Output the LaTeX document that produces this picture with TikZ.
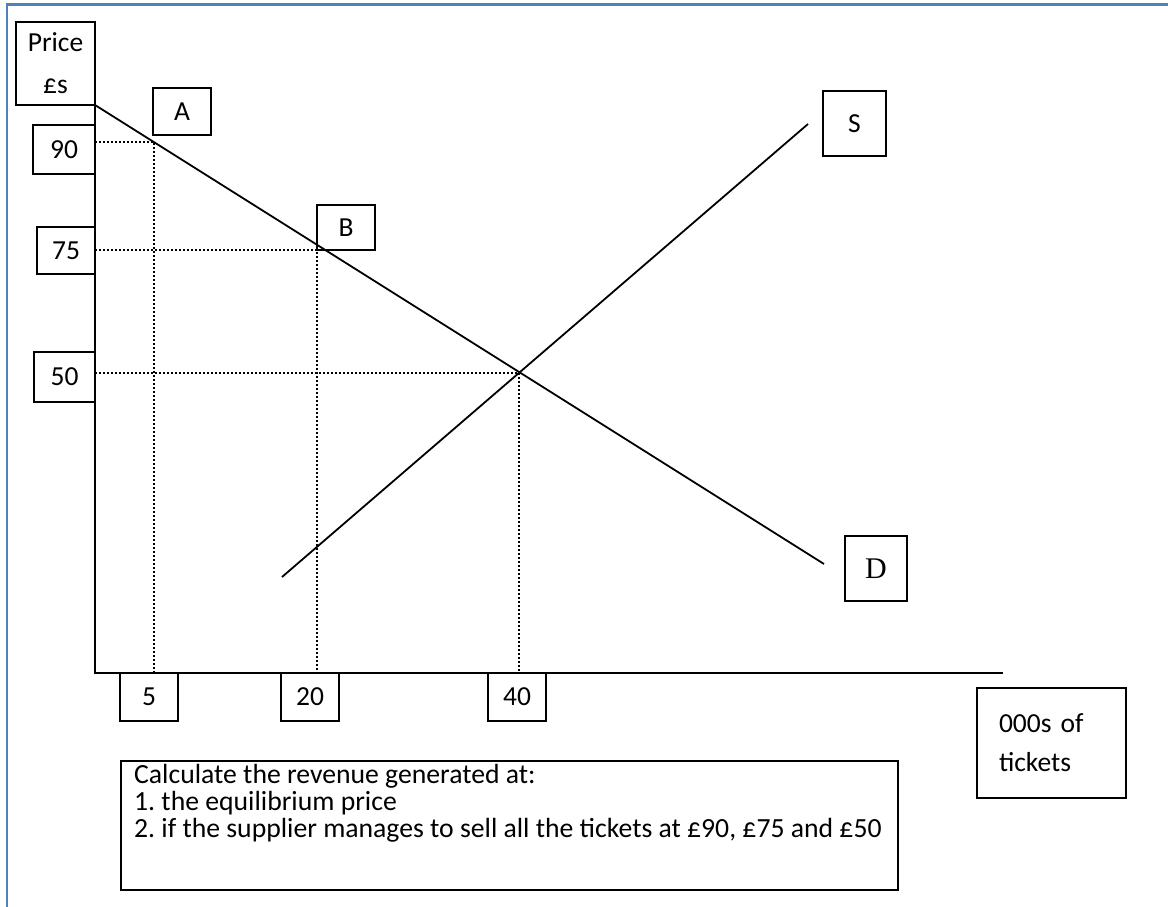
\documentclass[tikz,border=0pt]{standalone}
\usepackage{fontspec}
\setmainfont{Carlito}
\newfontfamily\timesfont{Liberation Serif}
\usetikzlibrary{positioning}
\definecolor{frameblue}{RGB}{79,129,189}
\frenchspacing

\begin{document}
\begin{tikzpicture}[x=1pt,y=-1pt]
\tikzstyle{lbl} = [draw,line width=1.6pt,inner sep=0pt,outer sep=0pt,font=\fontsize{27.5}{34}\selectfont]
\tikzstyle{curve} = [line width=1.8pt]
\tikzstyle{axis} = [line width=2pt]
\tikzstyle{guide} = [line width=1.8pt,dash pattern=on 2pt off 2pt]

\useasboundingbox (0,0) rectangle (1168,907);
\draw[line width=2.5pt,color=frameblue] (7,907) -- (7,4.5) -- (1168,4.5);

% axis labels
\node[lbl,minimum width=79pt,minimum height=83pt,align=center] (price) at (55.5,63.5) {Price\\[8pt]£s};
\node[lbl,minimum width=149pt,minimum height=110pt,text width=105pt,align=left] (qty) at (1051.5,743) {000s of\\[5pt]tickets\\[2pt]};

% price values
\node[lbl,minimum width=62pt,minimum height=49pt] (y90) at (64,149.5) {90};
\node[lbl,minimum width=58pt,minimum height=47pt] (y75) at (66,250.5) {75};
\node[lbl,minimum width=61pt,minimum height=50pt] (y50) at (64.5,377) {50};

% quantity values
\node[lbl,minimum width=58pt,minimum height=48pt] (x5) at (149,697) {5};
\node[lbl,minimum width=58pt,minimum height=48pt] (x20) at (310,697) {20};
\node[lbl,minimum width=58pt,minimum height=48pt] (x40) at (517,697) {40};

% points and curves
\node[lbl,minimum width=58pt,minimum height=47pt] (A) at (182,111.5) {A};
\node[lbl,minimum width=58pt,minimum height=45pt] (B) at (346,227.5) {B};
\node[lbl,minimum width=63pt,minimum height=65pt] (S) at (854.5,123.5) {S};
\node[lbl,minimum width=62pt,minimum height=65pt,font=\timesfont\fontsize{30}{34}\selectfont] (D) at (876,568.5) {D};

\coordinate (O) at (95,673);
\coordinate (xEnd) at (1003,673);
\coordinate (dEnd) at (824,564);
\coordinate (sStart) at (282,577);
\coordinate (sEnd) at (808,124);
\coordinate (pA) at (154,142);
\coordinate (pB) at (317,250);
\coordinate (pE) at (519,373);

\draw[axis] (price.south east) -- (O) -- (xEnd);
\draw[curve] (price.south east) -- (dEnd);
\draw[curve] (sStart) -- (sEnd);

\draw[guide] (O |- pA) -- (pA) -- (pA |- O);
\draw[guide] (O |- pB) -- (pB) -- (pB |- O);
\draw[guide] (O |- pE) -- (pE) -- (pE |- O);

% question
\node[lbl,minimum width=777pt,minimum height=129pt] (task) at (509.5,825.5) {};
\node[anchor=north west,inner sep=0pt,align=left,font=\fontsize{27.7}{26.8}\selectfont] (taskText)
  at ([xshift=13pt,yshift=-3pt]task.north west)
  {Calculate the revenue generated at:\\
   1. the equilibrium price\\
   2. if the supplier manages to sell all the tickets at £90, £75 and £50};
\end{tikzpicture}
\end{document}
